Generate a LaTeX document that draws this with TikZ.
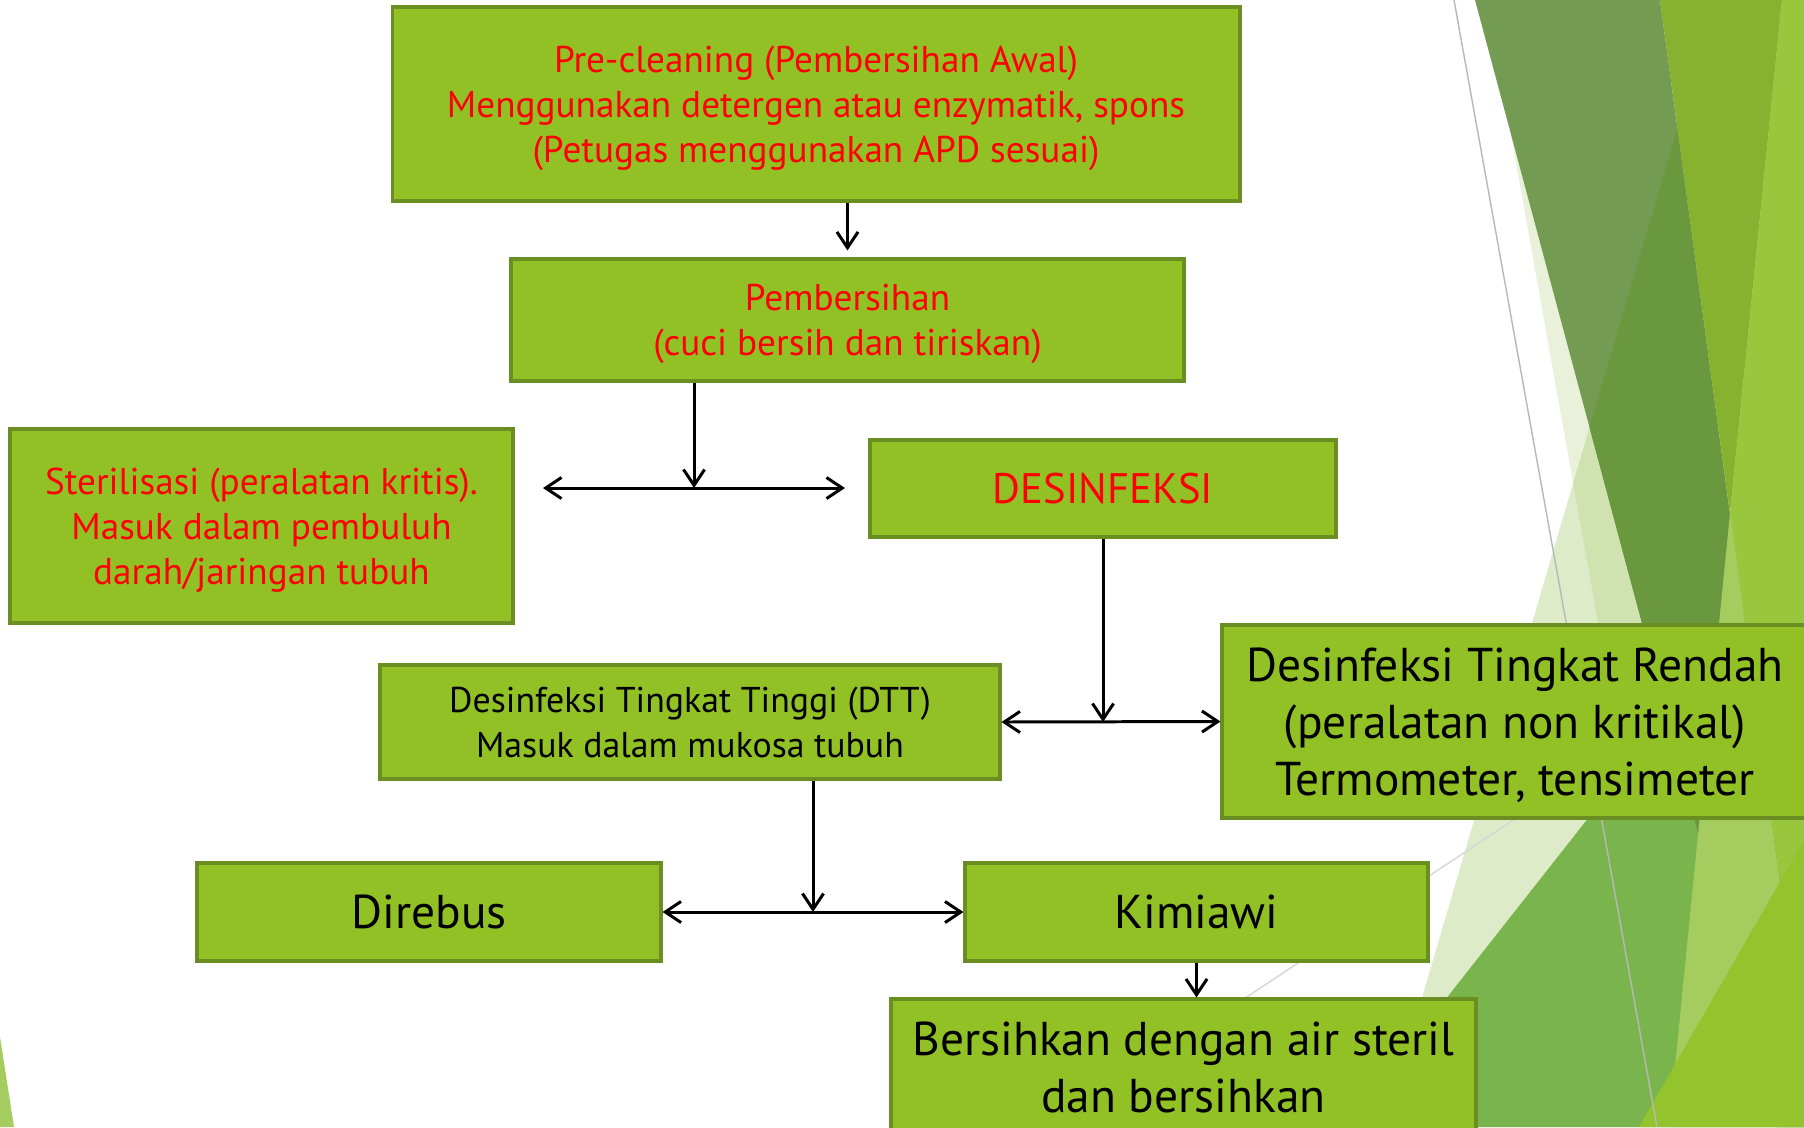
\documentclass[tikz,border=0pt]{standalone}
\usepackage{fontspec}
\setmainfont{PT Sans}
\usetikzlibrary{arrows.meta}

\definecolor{boxgreen}{HTML}{92C126}
\definecolor{boxedge}{HTML}{6B8E23}
\definecolor{facetpale}{HTML}{9CC35A}
\definecolor{facetmid}{HTML}{7AB44C}
\definecolor{facetdark}{HTML}{739C52}
\definecolor{facetdeep}{HTML}{6A983F}
\definecolor{facetolive}{HTML}{86B22F}
\definecolor{facetlight}{HTML}{A5CC5E}
\definecolor{facetbright}{HTML}{98C73D}
\definecolor{facetlime}{HTML}{93C42D}

\tikzset{
  box/.style={draw=boxedge, line width=1.8pt, fill=boxgreen, align=center, inner sep=0pt, text depth=0pt},
  redtxt/.style={text=red, font=\fontsize{21.2}{25.7}\selectfont},
  blktxt/.style={text=black, font=\fontsize{20.4}{25.7}\selectfont},
  bigtxt/.style={text=black, font=\fontsize{27}{32.6}\selectfont},
  link/.style={line width=1.7pt, >={Straight Barb[length=9pt,width=12pt]}},
}

\begin{document}
\begin{tikzpicture}[x=0.02cm, y=-0.02cm]
    \useasboundingbox (0,0) rectangle (1804,1127);
    \fill [white] (0,0) rectangle (1804,1127);
    % facets of the slide background
    \fill [facetpale, opacity=0.33] (1715,0)--(1804,0)--(1804,1127)--(1384,1127)--cycle;
    \fill [facetpale, opacity=0.22] (1487,0)--(1804,0)--(1804,1127)--(1688,1127)--cycle;
    \fill [facetmid] (1345,1127)--(1804,544)--(1804,1127)--cycle;
    \fill [facetdark] (1475,0)--(1660,0)--(1813,1127)--(1777,1127)--cycle;
    \begin{scope}
      \clip (1475,0)--(1660,0)--(1813,1127)--(1777,1127)--cycle;
      \fill [facetdeep] (1715,0)--(1804,0)--(1804,1127)--(1384,1127)--cycle;
    \end{scope}
    \fill [facetolive] (1660,0)--(1782,0)--(1730,513)--cycle;
    \fill [facetlight] (1730,513)--(1813,1127)--(1669,1127)--cycle;
    \fill [facetbright] (1782,0)--(1804,0)--(1804,1059)--(1730,513)--cycle;
    \fill [facetlime] (1639,1127)--(1804,840)--(1804,1127)--cycle;
    \fill [facetlight] (0,1037)--(14,1127)--(0,1127)--cycle;
    \draw [black!28, line width=0.8pt] (1454,0)--(1657,1127);
    \draw [black!16, line width=0.8pt] (1051,1127)--(1804,627);

    % boxes
    \node [box, redtxt, minimum width=16.96cm, minimum height=3.88cm] (pre) at (816,104)
      {Pre-cleaning (Pembersihan Awal)\\Menggunakan detergen atau enzymatik, spons\\(Petugas menggunakan APD sesuai)};
    \node [box, redtxt, minimum width=13.46cm, minimum height=2.44cm] (pemb) at (847.5,320)
      {Pembersihan\\(cuci bersih dan tiriskan)};
    \node [box, redtxt, minimum width=10.06cm, minimum height=3.88cm] (steril) at (261.5,526)
      {Sterilisasi (peralatan kritis).\\Masuk dalam pembuluh\\darah/jaringan tubuh};
    \node [box, redtxt, font=\fontsize{24.3}{29}\selectfont, minimum width=9.32cm, minimum height=1.94cm] (desinf) at (1103,488.5)
      {DESINFEKSI};
    \node [box, blktxt, minimum width=12.4cm, minimum height=2.28cm] (dtt) at (690,722)
      {Desinfeksi Tingkat Tinggi (DTT)\\Masuk dalam mukosa tubuh};
    \node [box, bigtxt, minimum width=11.72cm, minimum height=3.86cm] (rendah) at (1515,721.5)
      {Desinfeksi Tingkat Rendah\\(peralatan non kritikal)\\Termometer, tensimeter};
    \node [box, bigtxt, text depth=-5pt, minimum width=9.28cm, minimum height=1.96cm] (direbus) at (429,912)
      {Direbus};
    \node [box, bigtxt, text depth=-5pt, minimum width=9.26cm, minimum height=1.96cm] (kimia) at (1196.5,912)
      {Kimiawi};
    \node [box, bigtxt, minimum width=11.7cm, minimum height=2.72cm] (bilas) at (1183.5,1067)
      {Bersihkan dengan air steril\\dan bersihkan};

    % connectors
    \coordinate (j1) at (694,488);
    \coordinate (j1l) at (543,488);
    \coordinate (j1r) at (845,488);
    \coordinate (j3) at (813,912);
    \draw [link, ->, shorten >=4pt] (pemb.north |- pre.south) -- (pemb.north);
    \draw [link, ->] (pemb.south -| j1) -- (j1);
    \draw [link, <->] (j1l) -- (j1r);
    \draw [link, ->] (desinf.south) -- (desinf.south |- dtt.east);
    \draw [link, <->] (dtt.east) -- (rendah.west);
    \draw [link, ->] (dtt.south -| j3) -- (j3);
    \draw [link, <->] (direbus.east) -- (kimia.west);
    \draw [link, ->] (kimia.south) -- (kimia.south |- bilas.north);
\end{tikzpicture}
\end{document}
